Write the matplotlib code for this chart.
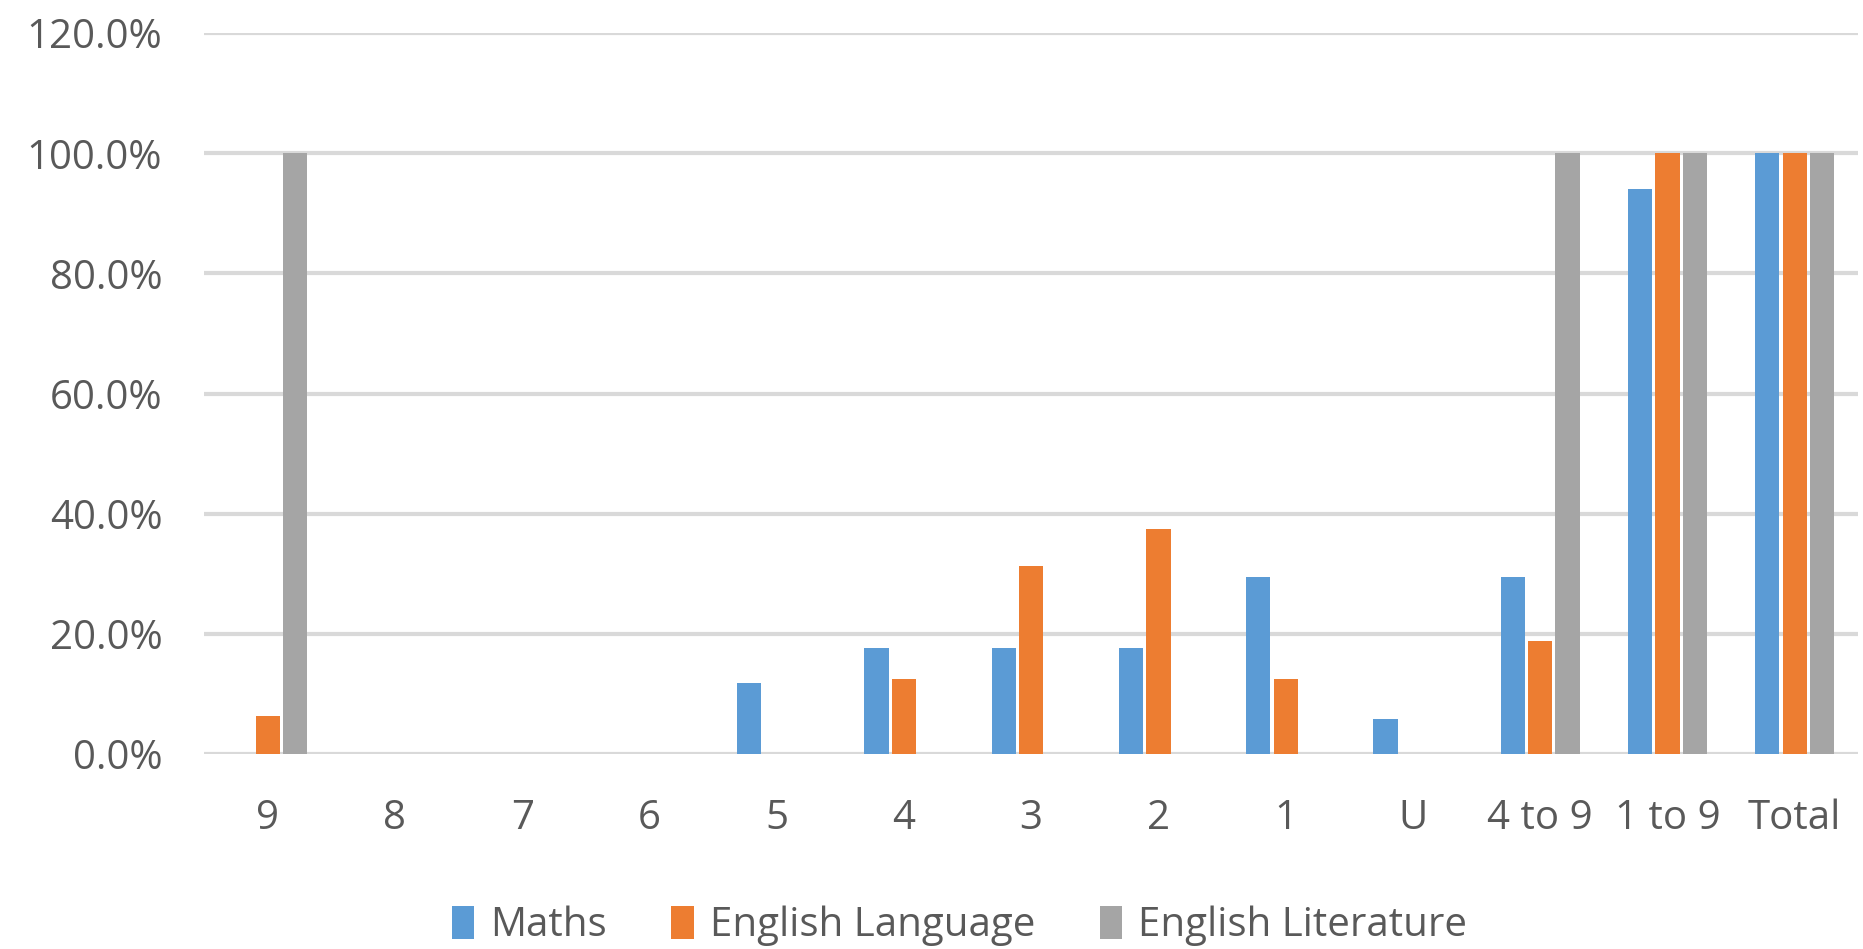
import numpy as np
import matplotlib.pyplot as plt

# grade categories and share of pupils per subject (fractions)
categories = ["9", "8", "7", "6", "5", "4", "3", "2", "1", "U", "4 to 9", "1 to 9", "Total"]
maths = [0.0, 0.0, 0.0, 0.0, 0.1176, 0.1765, 0.1765, 0.1765, 0.2941, 0.0588, 0.2941, 0.9412, 1.0]
eng_lang = [0.0625, 0.0, 0.0, 0.0, 0.0, 0.125, 0.3125, 0.375, 0.125, 0.0, 0.1875, 1.0, 1.0]
eng_lit = [1.0, 0.0, 0.0, 0.0, 0.0, 0.0, 0.0, 0.0, 0.0, 0.0, 1.0, 1.0, 1.0]
series_names = ["Maths", "English Language", "English Literature"]
colors = ["#5b9bd5", "#ed7d31", "#a5a5a5"]
y_ticks = [0.0, 0.2, 0.4, 0.6, 0.8, 1.0, 1.2]

plt.rcParams['font.family'] = ['Open Sans', 'DejaVu Sans']
text_color = "#595959"
grid_color = "#d9d9d9"

fig = plt.figure(figsize=(18.63, 9.49), dpi=100)
ax = fig.add_axes([0.1095, 0.2055, 0.888, 0.7595])

x = np.arange(len(categories))
bar_w = 0.19
step = 0.215
for i, (vals, name, col) in enumerate(zip([maths, eng_lang, eng_lit], series_names, colors)):
    ax.bar(x + (i - 1) * step, vals, width=bar_w, color=col, label=name, zorder=3)

ax.set_xlim(-0.5, len(categories) - 0.5)
ax.set_ylim(0, 1.2)
ax.set_yticks(y_ticks)
ax.set_yticklabels([f"{v * 100:.1f}%" for v in y_ticks])
ax.set_xticks(x)
ax.set_xticklabels(categories)

ax.yaxis.grid(True, color=grid_color, linewidth=3, zorder=0)
ax.set_axisbelow(True)
for side in ["top", "right", "left", "bottom"]:
    ax.spines[side].set_visible(False)
ax.tick_params(axis='both', length=0, labelsize=29, colors=text_color)
ax.tick_params(axis='y', pad=30)
ax.tick_params(axis='x', pad=32)

handles, labels = ax.get_legend_handles_labels()
fig.legend(handles, labels, loc='center', bbox_to_anchor=(0.515, 0.024), ncol=3,
           frameon=False, fontsize=29, labelcolor=text_color,
           handlelength=0.55, handleheight=0.85, handletextpad=0.4, columnspacing=1.6)

fig.savefig("out.png", dpi=100)
